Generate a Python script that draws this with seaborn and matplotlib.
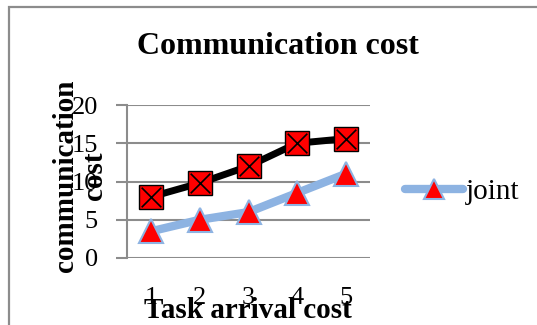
import matplotlib
matplotlib.use("Agg")
import matplotlib.pyplot as plt
import matplotlib.patches as mpatches
from matplotlib.lines import Line2D
import seaborn as sns
import pandas as pd

# Chart data
task_arrival = [1, 2, 3, 4, 5]
baseline_cost = [8, 9.8, 12, 15, 15.6]
joint_cost = [3.5, 5, 6, 8.5, 11]
y_ticks = [0, 5, 10, 15, 20]

sns.set_theme(style="white")
plt.rcParams["font.family"] = ["Liberation Serif", "DejaVu Serif"]
plt.rcParams["text.color"] = "black"

W, H = 537, 325
fig = plt.figure(figsize=(W / 100, H / 100), dpi=100)

# outer chart frame
frame = mpatches.Rectangle((9 / W, -0.1), 1.2, 1 - 7 / H + 0.1, transform=fig.transFigure,
                           fill=False, edgecolor="#8c8c8c", linewidth=1.6)
fig.patches.append(frame)

ax = fig.add_axes([127 / W, 1 - 258 / H, (370 - 127) / W, (258 - 105) / H])

df = pd.DataFrame({"task": task_arrival, "base": baseline_cost, "joint": joint_cost})

sns.lineplot(data=df, x="task", y="base", ax=ax, color="black", linewidth=5,
             marker="s", markersize=17, markerfacecolor="#ff0000",
             markeredgecolor="black", markeredgewidth=1, zorder=3)
sns.scatterplot(data=df, x="task", y="base", ax=ax, marker="x", s=200,
                color="black", linewidth=1.2, zorder=4)
sns.lineplot(data=df, x="task", y="joint", ax=ax, color="#8db3e2", linewidth=6,
             marker="^", markersize=17, markerfacecolor="#ff0000",
             markeredgecolor="#8db3e2", markeredgewidth=1.5, zorder=3)

ax.set_xlim(0.5, 5.5)
ax.set_ylim(0, 20)
ax.set_yticks(y_ticks)
ax.set_xticks(task_arrival)
ax.set_xticklabels([str(t) for t in task_arrival])
ax.set_yticklabels([str(v) for v in y_ticks])
ax.grid(axis="y", color="#8c8c8c", linewidth=1.5)
ax.grid(axis="x", visible=False)
ax.set_axisbelow(True)
for s in ["top", "right", "bottom"]:
    ax.spines[s].set_visible(False)
ax.spines["left"].set_color("#8c8c8c")
ax.spines["left"].set_linewidth(1.5)
ax.tick_params(axis="y", length=8, width=1.5, color="#8c8c8c", labelsize=19,
               pad=13, left=True, labelcolor="black")
ax.tick_params(axis="x", length=0, labelsize=19, pad=21, labelcolor="black")
ax.set_xlabel("")
ax.set_ylabel("")

fig.text(278 / W, 1 - 47 / H, "Communication cost", ha="center", va="center",
         fontsize=23, fontweight="bold", color="black")
fig.text(80 / W, 1 - 176 / H, "communication\ncost", ha="center", va="center",
         rotation=90, fontsize=21, fontweight="bold", linespacing=1.05, color="black")
fig.text(248 / W, 1 - 310 / H, "Task arrival cost", ha="center", va="center",
         fontsize=21, fontweight="bold", color="black")

handle = Line2D([], [], color="#8db3e2", linewidth=6, marker="^", markersize=14,
                markerfacecolor="#ff0000", markeredgecolor="#8db3e2",
                markeredgewidth=1.5, solid_capstyle="round")
fig.legend(handles=[handle], labels=["joint"], loc="center left",
           bbox_to_anchor=(405 / W, 1 - 192 / H), frameon=False, fontsize=21,
           handlelength=2.0, handletextpad=0.1, borderpad=0, borderaxespad=0,
           labelcolor="black")

fig.savefig("out.png", dpi=100)
